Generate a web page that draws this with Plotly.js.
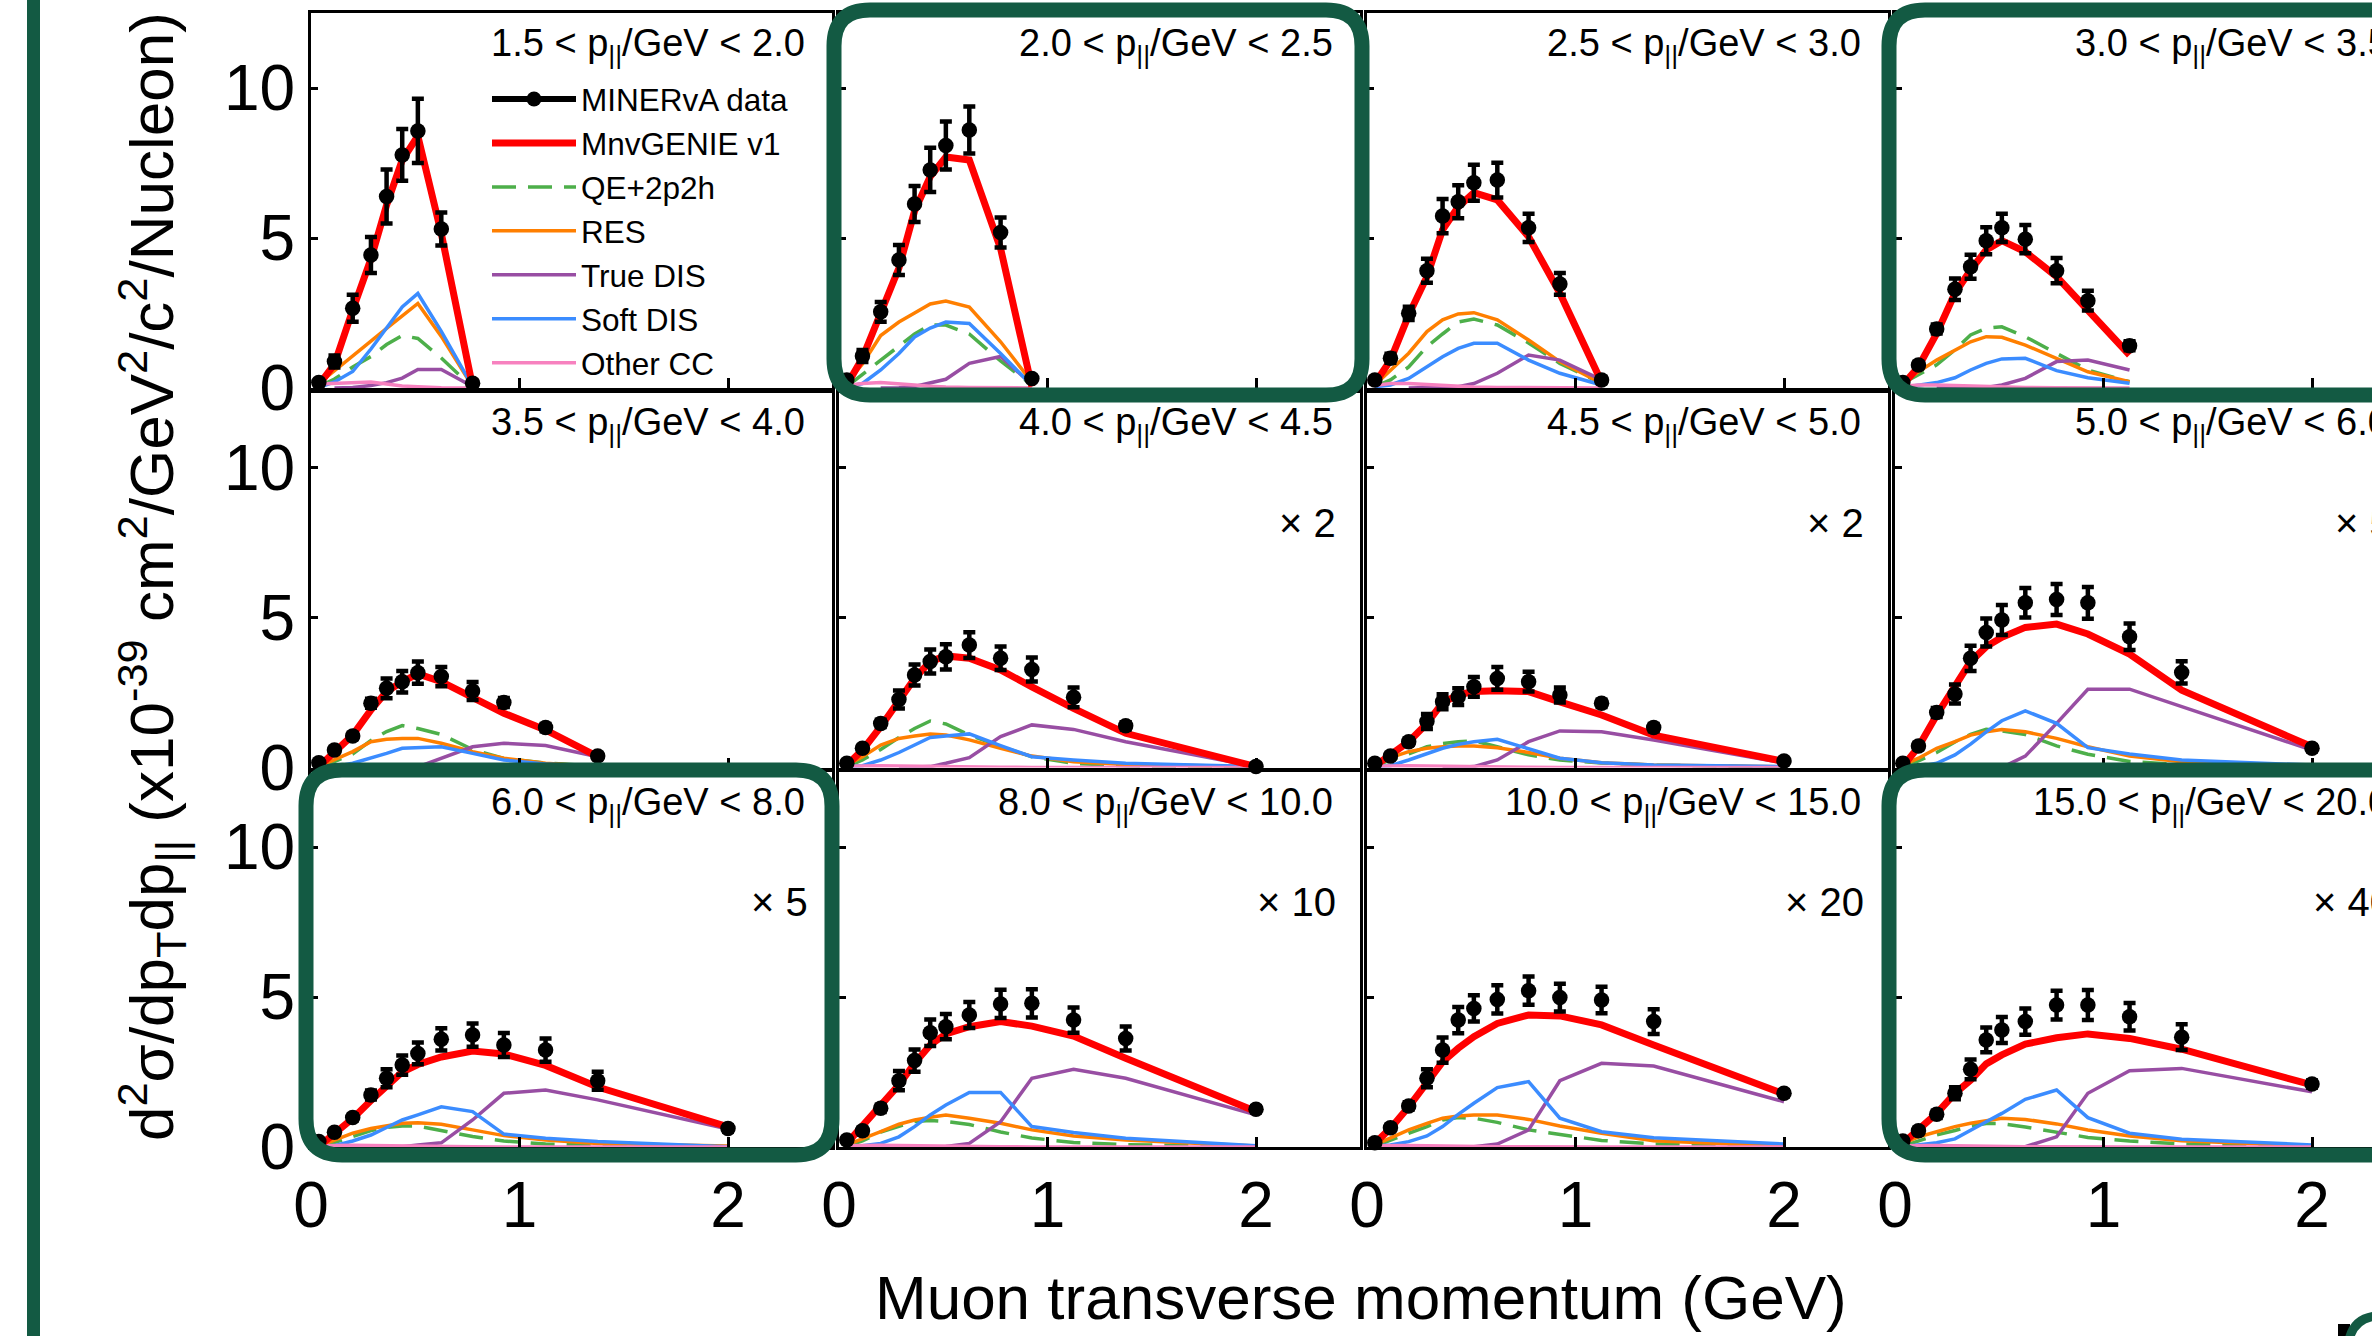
<!DOCTYPE html>
<html>
<head>
<meta charset="utf-8">
<script src="https://cdn.plot.ly/plotly-3.0.1.min.js"></script>
<style>
html,body{margin:0;padding:0;background:#ffffff;overflow:hidden;}
#chart{width:2372px;height:1336px;}
</style>
</head>
<body>
<div id="chart"></div>
<script>
// ---------------- data (values as plotted, i.e. already multiplied by the panel scale factor) ----------------
const ptBins = [0.0375, 0.1125, 0.2, 0.2875, 0.3625, 0.4375, 0.5125, 0.625, 0.775, 0.925, 1.125, 1.375, 2.0];

const panelLabels = [
  "1.5 < p<sub>||</sub>/GeV < 2.0", "2.0 < p<sub>||</sub>/GeV < 2.5", "2.5 < p<sub>||</sub>/GeV < 3.0", "3.0 < p<sub>||</sub>/GeV < 3.5",
  "3.5 < p<sub>||</sub>/GeV < 4.0", "4.0 < p<sub>||</sub>/GeV < 4.5", "4.5 < p<sub>||</sub>/GeV < 5.0", "5.0 < p<sub>||</sub>/GeV < 6.0",
  "6.0 < p<sub>||</sub>/GeV < 8.0", "8.0 < p<sub>||</sub>/GeV < 10.0", "10.0 < p<sub>||</sub>/GeV < 15.0", "15.0 < p<sub>||</sub>/GeV < 20.0"
];
const scaleLabels = ["", "", "", "", "", "× 2", "× 2", "× 5", "× 5", "× 10", "× 20", "× 40"];

const minervaData = [
  [0.18, 0.88, 2.66, 4.43, 6.38, 7.77, 8.57, 5.30, 0.16],
  [0.27, 1.07, 2.54, 4.27, 6.13, 7.27, 8.08, 8.60, 5.18, 0.32],
  [0.27, 0.99, 2.49, 3.91, 5.73, 6.21, 6.84, 6.93, 5.34, 3.47, 0.27],
  [0.18, 0.77, 1.97, 3.29, 4.04, 4.91, 5.34, 4.96, 3.91, 2.91, 1.41],
  [0.16, 0.58, 1.05, 2.14, 2.64, 2.86, 3.16, 3.03, 2.55, 2.17, 1.33, 0.38],
  [0.14, 0.64, 1.47, 2.27, 3.08, 3.53, 3.69, 4.08, 3.64, 3.27, 2.34, 1.39, 0.03],
  [0.14, 0.38, 0.86, 1.53, 2.19, 2.36, 2.69, 2.97, 2.86, 2.42, 2.14, 1.33, 0.22],
  [0.14, 0.72, 1.83, 2.45, 3.64, 4.50, 4.92, 5.49, 5.60, 5.49, 4.36, 3.17, 0.64],
  [0.18, 0.49, 0.98, 1.73, 2.29, 2.73, 3.12, 3.59, 3.73, 3.40, 3.23, 2.21, 0.62],
  [0.23, 0.54, 1.29, 2.21, 2.88, 3.81, 4.01, 4.40, 4.77, 4.79, 4.23, 3.62, 1.26],
  [0.14, 0.64, 1.37, 2.29, 3.23, 4.23, 4.62, 4.92, 5.21, 4.98, 4.90, 4.18, 1.79],
  [0.20, 0.54, 1.09, 1.79, 2.59, 3.57, 3.90, 4.18, 4.73, 4.73, 4.34, 3.66, 2.10]
];
const minervaErr = [
  [0.08, 0.20, 0.45, 0.60, 0.90, 0.86, 1.07, 0.55, 0.08],
  [0.08, 0.20, 0.33, 0.50, 0.60, 0.74, 0.80, 0.78, 0.50, 0.08],
  [0.08, 0.15, 0.22, 0.40, 0.57, 0.55, 0.60, 0.58, 0.47, 0.36, 0.10],
  [0.06, 0.10, 0.15, 0.36, 0.40, 0.45, 0.47, 0.47, 0.42, 0.33, 0.15],
  [0.05, 0.08, 0.10, 0.15, 0.33, 0.36, 0.37, 0.32, 0.30, 0.15, 0.12, 0.08],
  [0.05, 0.08, 0.12, 0.30, 0.35, 0.40, 0.42, 0.43, 0.39, 0.40, 0.33, 0.12, 0.05],
  [0.05, 0.08, 0.10, 0.25, 0.25, 0.28, 0.33, 0.38, 0.33, 0.25, 0.12, 0.12, 0.05],
  [0.05, 0.10, 0.15, 0.32, 0.42, 0.47, 0.50, 0.49, 0.52, 0.53, 0.44, 0.37, 0.10],
  [0.05, 0.08, 0.10, 0.15, 0.30, 0.32, 0.36, 0.37, 0.39, 0.40, 0.39, 0.30, 0.10],
  [0.05, 0.08, 0.12, 0.32, 0.37, 0.44, 0.42, 0.43, 0.47, 0.47, 0.42, 0.40, 0.10],
  [0.05, 0.08, 0.12, 0.30, 0.42, 0.44, 0.44, 0.47, 0.47, 0.46, 0.44, 0.41, 0.10],
  [0.05, 0.08, 0.12, 0.20, 0.33, 0.41, 0.43, 0.44, 0.48, 0.50, 0.46, 0.43, 0.12]
];
const mnvGenie = [
  [0.10, 0.80, 2.60, 4.30, 6.10, 7.60, 8.40, 5.15, 0.05],
  [0.10, 1.00, 2.50, 4.00, 5.90, 7.05, 7.70, 7.60, 4.65, 0.05],
  [0.15, 0.93, 2.43, 3.71, 5.27, 6.04, 6.51, 6.27, 5.04, 3.16, 0.20],
  [0.10, 0.71, 1.82, 3.16, 3.93, 4.60, 4.91, 4.54, 3.71, 2.60, 1.10],
  [0.03, 0.53, 1.08, 1.92, 2.53, 2.86, 3.12, 2.86, 2.36, 1.81, 1.25, 0.36],
  [0.08, 0.58, 1.36, 2.19, 2.97, 3.53, 3.72, 3.64, 3.25, 2.69, 1.97, 1.14, 0.03],
  [0.05, 0.42, 0.86, 1.47, 2.16, 2.42, 2.53, 2.56, 2.53, 2.19, 1.75, 1.08, 0.20],
  [0.03, 0.69, 1.75, 2.69, 3.53, 4.03, 4.34, 4.67, 4.78, 4.45, 3.78, 2.58, 0.69],
  [0.02, 0.45, 0.95, 1.55, 2.05, 2.50, 2.75, 3.00, 3.20, 3.10, 2.72, 2.00, 0.67],
  [0.12, 0.68, 1.34, 2.07, 2.79, 3.40, 3.77, 4.01, 4.18, 4.03, 3.70, 2.96, 1.18],
  [0.12, 0.62, 1.34, 2.18, 2.84, 3.29, 3.68, 4.12, 4.40, 4.37, 4.07, 3.40, 1.77],
  [0.12, 0.57, 1.12, 1.79, 2.23, 2.77, 3.07, 3.43, 3.64, 3.77, 3.62, 3.26, 2.07]
];
const qe2p2h = [
  [0.05, 0.30, 0.70, 1.05, 1.45, 1.75, 1.65, 1.00, 0.02],
  [0.05, 0.45, 0.95, 1.40, 1.80, 2.10, 2.10, 1.80, 0.90, 0.10],
  [0.04, 0.27, 0.70, 1.38, 1.80, 2.20, 2.30, 2.10, 1.50, 0.82, 0.15],
  [0.16, 0.43, 0.77, 1.27, 1.77, 1.99, 2.04, 1.71, 1.16, 0.60, 0.21],
  [0.02, 0.20, 0.45, 0.90, 1.20, 1.40, 1.30, 1.10, 0.60, 0.30, 0.15, 0.05],
  [0.03, 0.25, 0.60, 1.00, 1.30, 1.55, 1.45, 1.08, 0.70, 0.36, 0.14, 0.05, 0.00],
  [0.05, 0.25, 0.45, 0.69, 0.80, 0.86, 0.89, 0.69, 0.42, 0.25, 0.15, 0.08, 0.01],
  [0.03, 0.22, 0.50, 0.85, 1.10, 1.27, 1.22, 1.10, 0.72, 0.44, 0.20, 0.10, 0.02],
  [0.02, 0.15, 0.35, 0.55, 0.65, 0.70, 0.70, 0.55, 0.35, 0.20, 0.10, 0.05, 0.01],
  [0.03, 0.20, 0.50, 0.70, 0.85, 0.88, 0.85, 0.75, 0.50, 0.30, 0.15, 0.08, 0.01],
  [0.03, 0.22, 0.43, 0.68, 0.90, 0.98, 0.96, 0.82, 0.57, 0.42, 0.22, 0.10, 0.02],
  [0.03, 0.20, 0.40, 0.55, 0.70, 0.78, 0.78, 0.67, 0.50, 0.32, 0.20, 0.10, 0.02]
];
const resonant = [
  [0.15, 0.57, 1.04, 1.56, 1.99, 2.42, 2.82, 1.72, 0.05],
  [0.16, 0.80, 1.75, 2.20, 2.50, 2.80, 2.90, 2.70, 1.54, 0.20],
  [0.10, 0.60, 1.16, 1.88, 2.27, 2.47, 2.51, 2.27, 1.60, 0.88, 0.15],
  [0.16, 0.54, 0.93, 1.27, 1.54, 1.71, 1.69, 1.43, 0.99, 0.54, 0.21],
  [0.03, 0.25, 0.53, 0.86, 0.94, 0.97, 0.97, 0.81, 0.53, 0.31, 0.14, 0.03],
  [0.08, 0.36, 0.75, 0.97, 1.05, 1.12, 1.08, 0.92, 0.64, 0.38, 0.19, 0.10, 0.03],
  [0.08, 0.33, 0.53, 0.64, 0.69, 0.72, 0.72, 0.66, 0.50, 0.31, 0.16, 0.08, 0.02],
  [0.08, 0.31, 0.64, 0.86, 1.08, 1.19, 1.27, 1.19, 0.97, 0.69, 0.38, 0.19, 0.05],
  [0.03, 0.23, 0.46, 0.62, 0.71, 0.79, 0.81, 0.76, 0.57, 0.38, 0.23, 0.12, 0.03],
  [0.07, 0.26, 0.51, 0.76, 0.90, 0.99, 1.07, 0.96, 0.79, 0.57, 0.37, 0.23, 0.03],
  [0.07, 0.29, 0.57, 0.79, 0.96, 1.03, 1.07, 1.07, 0.92, 0.70, 0.46, 0.21, 0.03],
  [0.12, 0.34, 0.51, 0.68, 0.79, 0.87, 0.96, 0.92, 0.77, 0.57, 0.37, 0.21, 0.03]
];
const trueDIS = [
  [null, 0.00, 0.02, 0.08, 0.18, 0.33, 0.62, 0.62, 0.05],
  [null, null, 0.00, 0.01, 0.05, 0.16, 0.29, 0.82, 1.05, 0.12],
  [null, null, 0.00, 0.01, 0.02, 0.04, 0.15, 0.49, 1.10, 0.93, 0.27],
  [null, null, 0.00, 0.00, 0.01, 0.02, 0.10, 0.32, 0.88, 0.93, 0.60],
  [null, null, null, null, null, null, 0.02, 0.31, 0.69, 0.81, 0.73, 0.36],
  [null, null, null, 0.00, 0.01, 0.03, 0.14, 0.33, 1.03, 1.42, 1.27, 0.86, 0.03],
  [null, null, null, null, 0.00, 0.00, 0.03, 0.25, 0.86, 1.22, 1.19, 0.92, 0.15],
  [null, null, null, null, null, null, 0.00, 0.38, 1.47, 2.61, 2.61, 2.03, 0.58],
  [null, null, null, null, 0.00, 0.01, 0.07, 0.14, 0.90, 1.79, 1.90, 1.57, 0.60],
  [null, null, null, null, 0.00, 0.00, 0.02, 0.12, 0.84, 2.29, 2.59, 2.29, 1.07],
  [null, null, null, null, null, 0.00, 0.01, 0.10, 0.57, 2.21, 2.79, 2.70, 1.51],
  [null, null, null, null, null, null, 0.00, 0.01, 0.34, 1.79, 2.54, 2.62, 1.84]
];
const softDIS = [
  [0.02, 0.20, 0.55, 1.30, 2.00, 2.70, 3.15, 1.89, 0.05],
  [0.04, 0.15, 0.60, 1.15, 1.70, 2.00, 2.20, 2.15, 1.15, 0.08],
  [0.04, 0.10, 0.32, 0.71, 1.04, 1.32, 1.49, 1.49, 0.93, 0.49, 0.10],
  [0.02, 0.10, 0.18, 0.34, 0.60, 0.82, 0.97, 0.99, 0.58, 0.34, 0.16],
  [0.00, 0.03, 0.14, 0.31, 0.47, 0.64, 0.66, 0.69, 0.47, 0.25, 0.12, 0.03],
  [0.03, 0.06, 0.25, 0.50, 0.75, 1.00, 1.05, 1.12, 0.73, 0.36, 0.25, 0.14, 0.03],
  [0.03, 0.06, 0.25, 0.47, 0.64, 0.77, 0.86, 0.94, 0.64, 0.31, 0.16, 0.08, 0.03],
  [0.00, 0.03, 0.14, 0.42, 0.78, 1.19, 1.56, 1.89, 1.47, 0.66, 0.45, 0.25, 0.08],
  [0.00, 0.04, 0.20, 0.40, 0.65, 0.90, 1.07, 1.34, 1.18, 0.43, 0.29, 0.18, 0.01],
  [0.01, 0.04, 0.12, 0.34, 0.68, 1.07, 1.40, 1.82, 1.82, 0.68, 0.48, 0.29, 0.04],
  [0.03, 0.07, 0.18, 0.37, 0.68, 1.09, 1.46, 1.98, 2.18, 0.96, 0.51, 0.31, 0.10],
  [0.01, 0.07, 0.14, 0.27, 0.57, 0.84, 1.12, 1.59, 1.90, 0.98, 0.46, 0.26, 0.07]
];
const otherCC = [
  [0.13, 0.15, 0.18, 0.20, 0.13, 0.07, 0.04, 0.01, 0.00],
  [0.08, 0.15, 0.18, 0.15, 0.10, 0.06, 0.03, 0.02, 0.01, 0.00],
  [0.08, 0.15, 0.15, 0.12, 0.08, 0.05, 0.03, 0.02, 0.01, 0.00, 0.00],
  [0.06, 0.10, 0.10, 0.08, 0.06, 0.04, 0.02, 0.02, 0.01, 0.00, 0.00],
  [0.04, 0.06, 0.06, 0.05, 0.04, 0.03, 0.02, 0.01, 0.01, 0.00, 0.00, 0.00],
  [0.04, 0.06, 0.06, 0.05, 0.04, 0.03, 0.02, 0.01, 0.01, 0.00, 0.00, 0.00, 0.00],
  [0.04, 0.06, 0.06, 0.05, 0.04, 0.03, 0.02, 0.01, 0.01, 0.00, 0.00, 0.00, 0.00],
  [0.04, 0.06, 0.06, 0.05, 0.04, 0.03, 0.02, 0.01, 0.01, 0.00, 0.00, 0.00, 0.00],
  [0.04, 0.06, 0.06, 0.05, 0.04, 0.03, 0.02, 0.01, 0.01, 0.00, 0.00, 0.00, 0.00],
  [0.04, 0.06, 0.06, 0.05, 0.04, 0.03, 0.02, 0.01, 0.01, 0.00, 0.00, 0.00, 0.00],
  [0.04, 0.05, 0.05, 0.04, 0.03, 0.02, 0.01, 0.01, 0.01, 0.00, 0.00, 0.00, 0.00],
  [0.04, 0.05, 0.05, 0.04, 0.03, 0.02, 0.01, 0.01, 0.01, 0.00, 0.00, 0.00, 0.00]
];

const seriesNames = ["MINERvA data", "MnvGENIE v1", "QE+2p2h", "RES", "True DIS", "Soft DIS", "Other CC"];
const xTickVals = [0, 1, 2];
const yTickVals = [0, 5, 10];
const xTitle = "Muon transverse momentum (GeV)";
const yTitle = "d<sup>2</sup>σ/dp<sub>T</sub>dp<sub>||</sub> (x10<sup>-39</sup> cm<sup>2</sup>/GeV<sup>2</sup>/c<sup>2</sup>/Nucleon)";

// ---------------- layout geometry (pixels) ----------------
const W = 2372, H = 1336;
const colX0 = [311, 839, 1367, 1895];
const rowY0 = [388, 767.5, 1147];
const unitX = 208.5, panelW = 521, panelH = 375, yMax = 12.5;
const FONT = "Liberation Sans, Arial, Helvetica, sans-serif";
const GREEN = "#135a43";
const px = v => v / W;
const py = v => 1 - v / H;

const colors = {red: "#ff0000", qe: "#4daf4a", res: "#ff7f00", tdis: "#984ea3", sdis: "#3b8cff", other: "#f781bf"};

const traces = [];
const layout = {
  width: W, height: H,
  margin: {l: 0, r: 0, t: 0, b: 0, pad: 0},
  paper_bgcolor: "#ffffff", plot_bgcolor: "#ffffff",
  font: {family: FONT, color: "#000000"},
  showlegend: true,
  legend: {
    x: px(487), y: py(72), xanchor: "left", yanchor: "top",
    bgcolor: "rgba(0,0,0,0)", borderwidth: 0,
    font: {family: FONT, size: 31.5, color: "#000"},
    itemwidth: 84, tracegroupgap: 0, traceorder: "normal"
  },
  shapes: [], annotations: []
};

for (let p = 0; p < 12; p++) {
  const r = Math.floor(p / 4), c = p % 4;
  const s = p === 0 ? "" : String(p + 1);
  const xa = "x" + s, ya = "y" + s;
  const x0 = colX0[c], x1 = Math.min(x0 + panelW, W);
  const yb = rowY0[r], yt = yb - panelH;

  layout["xaxis" + s] = {
    domain: [px(x0), px(x1)], range: [0, (x1 - x0) / unitX], anchor: ya,
    showline: true, linecolor: "#000", linewidth: 3, mirror: true,
    ticks: "inside", ticklen: 10, tickwidth: 3, tickcolor: "#000",
    tickvals: xTickVals, ticktext: xTickVals.map(String),
    showticklabels: r === 2, tickfont: {family: FONT, size: 64, color: "#000"},
    showgrid: false, zeroline: false, fixedrange: true
  };
  layout["yaxis" + s] = {
    domain: [py(yb), py(yt)], range: [0, yMax], anchor: xa,
    showline: true, linecolor: "#000", linewidth: 3, mirror: c < 3,
    ticks: "inside", ticklen: 7, tickwidth: 3, tickcolor: "#000",
    tickvals: yTickVals, ticktext: yTickVals.map(String),
    showticklabels: c === 0, tickfont: {family: FONT, size: 64, color: "#000"},
    showgrid: false, zeroline: false, fixedrange: true
  };

  const n = minervaData[p].length;
  const xs = ptBins.slice(0, n);
  const first = p === 0;
  const comp = [
    [qe2p2h, colors.qe, 3.5, "24px,12px", 2],
    [resonant, colors.res, 3.5, "solid", 3],
    [trueDIS, colors.tdis, 3.5, "solid", 4],
    [softDIS, colors.sdis, 3.5, "solid", 5],
    [otherCC, colors.other, 3.5, "solid", 6]
  ];
  comp.forEach(([arr, col, w, dash, k]) => {
    traces.push({
      type: "scatter", mode: "lines", x: xs, y: arr[p], xaxis: xa, yaxis: ya,
      name: seriesNames[k], legendgroup: seriesNames[k], showlegend: first, legendrank: k + 1,
      line: {color: col, width: w, dash: dash}, cliponaxis: false, hoverinfo: "skip"
    });
  });
  traces.push({
    type: "scatter", mode: "lines", x: xs, y: mnvGenie[p], xaxis: xa, yaxis: ya,
    name: seriesNames[1], legendgroup: seriesNames[1], showlegend: first, legendrank: 2,
    line: {color: colors.red, width: 7}, cliponaxis: false, hoverinfo: "skip"
  });
  traces.push({
    type: "scatter", mode: "markers", x: xs, y: minervaData[p], xaxis: xa, yaxis: ya,
    name: seriesNames[0], legendgroup: seriesNames[0], showlegend: false,
    marker: {color: "#000", size: 15.5, symbol: "circle"},
    error_y: {type: "data", array: minervaErr[p], visible: true, color: "#000", thickness: 4.5, width: 6},
    cliponaxis: false, hoverinfo: "skip"
  });

  // panel label
  layout.annotations.push({
    xref: "paper", yref: "paper", x: px(x0 + panelW - 25), y: py(yt + 33),
    xanchor: "right", yanchor: "middle", showarrow: false,
    text: panelLabels[p], font: {family: FONT, size: 38, color: "#000"}
  });
  if (scaleLabels[p]) {
    layout.annotations.push({
      xref: "paper", yref: "paper", x: px(x0 + panelW - 22), y: py(yt + 130),
      xanchor: "right", yanchor: "middle", showarrow: false,
      text: scaleLabels[p], font: {family: FONT, size: 40, color: "#000"}
    });
  }
}

// legend-only entry for the data (line + marker symbol)
traces.push({
  type: "scatter", mode: "lines+markers", x: [null], y: [null],
  name: seriesNames[0], legendgroup: seriesNames[0], showlegend: true, legendrank: 1,
  line: {color: "#000", width: 6}, marker: {color: "#000", size: 15}, hoverinfo: "skip"
});

// global axis titles
layout.annotations.push({
  xref: "paper", yref: "paper", x: px(1361), y: py(1297), xanchor: "center", yanchor: "middle",
  showarrow: false, text: xTitle, font: {family: FONT, size: 62, color: "#000"}
});
layout.annotations.push({
  xref: "paper", yref: "paper", x: px(151), y: py(577), xanchor: "center", yanchor: "middle",
  showarrow: false, textangle: -90, text: yTitle, font: {family: FONT, size: 62, color: "#000"}
});

// slide decorations: left green bar and rounded highlight frames
layout.shapes.push({type: "rect", xref: "paper", yref: "paper", x0: px(27), x1: px(40), y0: 0, y1: 1,
  fillcolor: GREEN, line: {width: 0}, layer: "above"});

function roundedRect(a, b, c2, d, rad) {
  const X = v => px(v), Y = v => py(v);
  return "M" + X(a + rad) + "," + Y(b) +
    " L" + X(c2 - rad) + "," + Y(b) +
    " Q" + X(c2) + "," + Y(b) + " " + X(c2) + "," + Y(b + rad) +
    " L" + X(c2) + "," + Y(d - rad) +
    " Q" + X(c2) + "," + Y(d) + " " + X(c2 - rad) + "," + Y(d) +
    " L" + X(a + rad) + "," + Y(d) +
    " Q" + X(a) + "," + Y(d) + " " + X(a) + "," + Y(d - rad) +
    " L" + X(a) + "," + Y(b + rad) +
    " Q" + X(a) + "," + Y(b) + " " + X(a + rad) + "," + Y(b) + " Z";
}
const frames = [[834, 10, 1362, 395], [1889, 10, 2430, 395], [306, 770, 832, 1155], [1889, 770, 2430, 1155]];
frames.forEach(f => {
  layout.shapes.push({type: "path", xref: "paper", yref: "paper", path: roundedRect(f[0], f[1], f[2], f[3], 36),
    line: {color: GREEN, width: 15}, fillcolor: "rgba(0,0,0,0)", layer: "above"});
});
// partial decoration in the bottom-right corner of the slide
layout.shapes.push({type: "rect", xref: "paper", yref: "paper", x0: px(2338), x1: px(2350), y0: py(1336), y1: py(1324),
  fillcolor: "#000", line: {width: 0}, layer: "above"});
layout.shapes.push({type: "path", xref: "paper", yref: "paper",
  path: "M" + px(2349) + "," + py(1340) + " Q" + px(2354) + "," + py(1318) + " " + px(2376) + "," + py(1316),
  line: {color: GREEN, width: 9}, fillcolor: "rgba(0,0,0,0)", layer: "above"});

Plotly.newPlot("chart", traces, layout, {staticPlot: true, displayModeBar: false});
</script>
</body>
</html>
